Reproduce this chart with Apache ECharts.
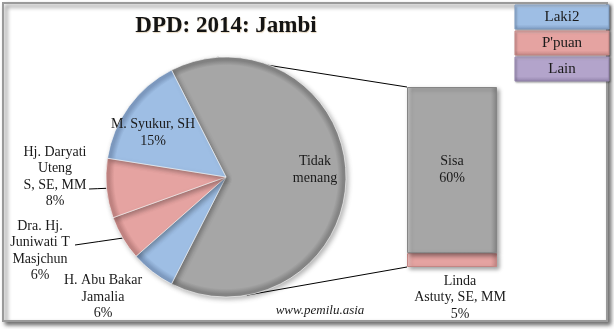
<!DOCTYPE html>
<html>
<head>
<meta charset="utf-8">
<script src="https://cdn.jsdelivr.net/npm/echarts@6/dist/echarts.min.js"></script>
<style>
  html, body { margin: 0; padding: 0; background: #ffffff; }
  #chart { width: 614px; height: 329px; }
</style>
</head>
<body>
<div id="chart"></div>
<script>
// DPD 2014, Jambi: pie of bar (winners in the pie, the rest split out in the bar)
const titleText = 'DPD: 2014: Jambi';
const sourceText = 'www.pemilu.asia';

// Bar (split-out part of the "Tidak menang" slice), bottom to top
const barNames = ['Linda\nAstuty, SE, MM', 'Sisa'];
const barValues = [5, 60];
const barGroups = ["P'puan", 'other'];

// Pie slices, clockwise from the "Tidak menang" slice
const pieNames = ['Tidak\nmenang', 'H. Abu Bakar\nJamalia', 'Dra. Hj.\nJuniwati T\nMasjchun', 'Hj. Daryati\nUteng\nS, SE, MM', 'M. Syukur, SH'];
const pieWinnerValues = [6, 6, 8, 15];
const pieGroups = ['other', 'Laki2', "P'puan", "P'puan", 'Laki2'];

// Gender key
const keyNames = ['Laki2', "P'puan", 'Lain'];

const otherTotal = barValues.reduce((a, b) => a + b, 0);
const pieValues = [otherTotal].concat(pieWinnerValues);

const groupColors = { 'Laki2': '#9ebee4', "P'puan": '#e5a3a1', 'Lain': '#b3a4cb', 'other': '#a6a6a6' };
const groupDark = { 'Laki2': '#7f9cc2', "P'puan": '#c48684', 'Lain': '#9485ad', 'other': '#858585' };
const groupLight = { 'Laki2': '#c4d8f0', "P'puan": '#f2c6c5', 'Lain': '#d2c7e2', 'other': '#c8c8c8' };

const CX = 226, CY = 177, R = 120;
const START = 117;
const serif = '"Liberation Serif", "DejaVu Serif", serif';

function rimGradient(g) {
  return {
    type: 'radial', x: CX, y: CY, r: R, global: true,
    colorStops: [
      { offset: 0, color: groupColors[g] },
      { offset: 0.93, color: groupColors[g] },
      { offset: 0.975, color: groupDark[g] },
      { offset: 1, color: groupDark[g] }
    ]
  };
}
function barGradient(g) {
  return {
    type: 'linear', x: 0, y: 0, x2: 1, y2: 0,
    colorStops: [
      { offset: 0, color: groupLight[g] },
      { offset: 0.06, color: groupColors[g] },
      { offset: 0.93, color: groupColors[g] },
      { offset: 1, color: groupDark[g] }
    ]
  };
}

// angle (math convention, degrees) of the middle of each slice
const total = pieValues.reduce((a, b) => a + b, 0);
const midAngles = [];
(function () {
  let a = START;
  pieValues.forEach(v => {
    const span = v / total * 360;
    midAngles.push(a - span / 2);
    a -= span;
  });
})();
function onRim(deg, rr) {
  const t = deg * Math.PI / 180;
  return [CX + rr * Math.cos(t), CY - rr * Math.sin(t)];
}

// label centres and leader-line ends
const labelSpots = [[315, 170], [103, 297], [40, 251], [55, 177], [153, 133]];
const leaderEnds = { 2: [75, 245], 3: [89, 189] };

const chart = echarts.init(document.getElementById('chart'), null, { renderer: 'canvas' });

const pieData = pieNames.map((n, i) => ({
  name: n,
  value: pieValues[i],
  itemStyle: { color: rimGradient(pieGroups[i]) },
  labelLine: { show: leaderEnds[i] !== undefined }
}));

const barSeries = barNames.map((n, i) => ({
  type: 'bar',
  name: n,
  stack: 'rest',
  barWidth: '100%',
  data: [barValues[i]],
  itemStyle: { color: barGradient(barGroups[i]), borderColor: groupDark[barGroups[i]], borderWidth: 1,
    shadowColor: 'rgba(0,0,0,0.35)', shadowBlur: 4, shadowOffsetX: 2, shadowOffsetY: 2 },
  label: {
    show: true,
    position: i === 0 ? 'bottom' : 'inside',
    distance: 6,
    offset: i === 0 ? [8, 0] : [0, 0],
    formatter: p => p.seriesName + '\n' + p.value + '%',
    fontFamily: serif, fontSize: 14, lineHeight: 16.5, color: '#1a1a1a'
  },
  z: 3
}));

const option = {
  animation: false,
  backgroundColor: '#ffffff',
  title: {
    text: titleText,
    left: 221, top: 10,
    textAlign: 'center',
    textStyle: { fontFamily: serif, fontWeight: 'bold', fontSize: 23, color: '#141414',
      textShadowColor: 'rgba(170,120,40,0.3)', textShadowBlur: 1, textShadowOffsetX: 0.5, textShadowOffsetY: 0.5 }
  },
  grid: { left: 407, top: 87, width: 90, height: 180 },
  xAxis: { type: 'category', data: ['rest'], show: false },
  yAxis: { type: 'value', min: 0, max: otherTotal, show: false },
  series: [{
    type: 'pie',
    center: [CX, CY],
    radius: R,
    startAngle: START,
    clockwise: true,
    data: pieData,
    itemStyle: { borderColor: 'rgba(255,255,255,0.6)', borderWidth: 1,
      shadowColor: 'rgba(0,0,0,0.3)', shadowBlur: 5, shadowOffsetX: 2, shadowOffsetY: 2 },
    label: {
      show: true,
      position: 'outside',
      overflow: 'none',
      formatter: p => p.dataIndex === 0 ? p.name : p.name + '\n' + p.value + '%',
      fontFamily: serif, fontSize: 14, lineHeight: 16.5, color: '#1a1a1a', align: 'center'
    },
    labelLine: { show: true, lineStyle: { color: '#000', width: 1 } },
    labelLayout: function (params) {
      const i = params.dataIndex;
      const spot = labelSpots[i];
      const out = { x: spot[0], y: spot[1], align: 'center', verticalAlign: 'middle' };
      if (leaderEnds[i]) {
        const a = onRim(midAngles[i], R);
        const e = leaderEnds[i];
        out.labelLinePoints = [a, [(a[0] + e[0]) / 2, (a[1] + e[1]) / 2], e];
      }
      return out;
    },
    z: 3
  }].concat(barSeries)
};
chart.setOption(option);

// connector lines from the pie to the bar, plus frame, key boxes and source
const barTop = chart.convertToPixel({ xAxisIndex: 0, yAxisIndex: 0 }, [0, otherTotal])[1];
const barBottom = chart.convertToPixel({ xAxisIndex: 0, yAxisIndex: 0 }, [0, 0])[1];
const barLeft = 407;
const topPt = onRim(94, R), botPt = onRim(-80, R);

const keyElems = keyNames.map((k, i) => ({
  type: 'group',
  x: 515, y: 5 + i * 26,
  children: [
    { type: 'rect', shape: { x: 0, y: 0, width: 94, height: 24 },
      style: { fill: { type: 'linear', x: 0, y: 0, x2: 0, y2: 1, colorStops: [
        { offset: 0, color: groupLight[k] }, { offset: 0.15, color: groupColors[k] }, { offset: 0.8, color: groupColors[k] }, { offset: 1, color: groupDark[k] }] },
        stroke: groupDark[k], lineWidth: 1, shadowColor: 'rgba(0,0,0,0.35)', shadowBlur: 2, shadowOffsetX: 1, shadowOffsetY: 1 } },
    { type: 'text', x: 47, y: 12, style: { text: k, fill: '#1a1a1a', font: '15px ' + serif, align: 'center', verticalAlign: 'middle' } }
  ]
}));

chart.setOption({
  graphic: [
    { type: 'rect', z: -10, shape: { x: 3, y: 3, width: 604, height: 318 },
      style: { fill: '#ffffff', stroke: '#9a9a9a', lineWidth: 2,
        shadowColor: 'rgba(0,0,0,0.55)', shadowBlur: 4, shadowOffsetX: 3, shadowOffsetY: 3 } },
    { type: 'line', z: 1, shape: { x1: topPt[0], y1: topPt[1], x2: barLeft, y2: barTop }, style: { stroke: '#000', lineWidth: 1 } },
    { type: 'line', z: 1, shape: { x1: botPt[0], y1: botPt[1], x2: barLeft, y2: barBottom }, style: { stroke: '#000', lineWidth: 1 } },
    { type: 'text', x: 320, y: 311, style: { text: sourceText, fill: '#1a1a1a', font: 'italic 13px ' + serif, align: 'center', verticalAlign: 'middle' } }
  ].concat(keyElems)
});
</script>
</body>
</html>
